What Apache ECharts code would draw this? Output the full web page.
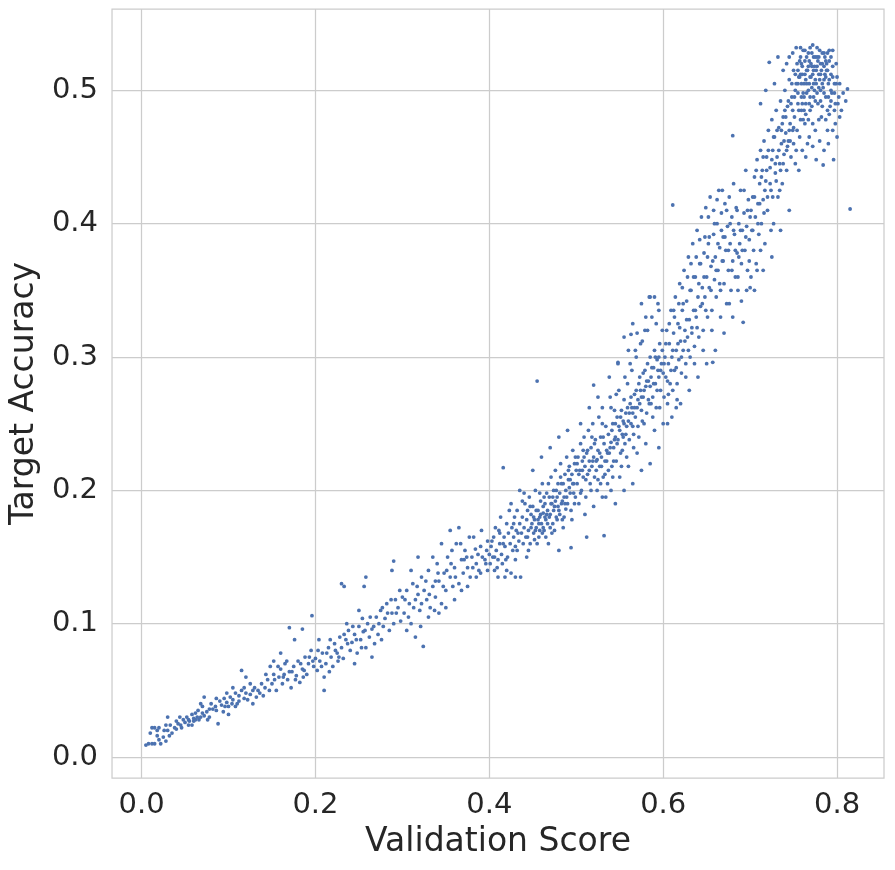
<!DOCTYPE html>
<html>
<head>
<meta charset="utf-8">
<script src="https://cdn.jsdelivr.net/npm/echarts@6/dist/echarts.min.js"></script>
<style>
  html, body { margin: 0; padding: 0; background: #fff; }
  #chart { width: 895px; height: 870px; }
</style>
</head>
<body>
<div id="chart"></div>
<script>
// tick labels
const xTicks = [0.0, 0.2, 0.4, 0.6, 0.8]
const yTicks = [0.0, 0.1, 0.2, 0.3, 0.4, 0.5]

// [validation score, target accuracy], left to right
const lowBand = [
  [0.008,0.010],[0.012,0.010],[0.015,0.010],[0.010,0.018],[0.012,0.022],[0.015,0.022],[0.018,0.020],[0.020,0.013],
  [0.022,0.010],[0.025,0.015],[0.028,0.012],[0.030,0.020],[0.018,0.016],[0.028,0.024],[0.030,0.030],[0.035,0.018],
  [0.033,0.024],[0.038,0.022],[0.040,0.027],[0.042,0.025],[0.045,0.024],[0.048,0.028],[0.050,0.026],[0.052,0.030],
  [0.055,0.027],[0.058,0.032],[0.060,0.029],[0.062,0.033],[0.065,0.035],[0.068,0.030],[0.070,0.038],[0.072,0.031],
  [0.075,0.034],[0.078,0.030],[0.080,0.040],[0.082,0.036],[0.085,0.038],[0.088,0.025],[0.090,0.042],[0.092,0.039],
  [0.095,0.044],[0.098,0.041],[0.100,0.038],[0.102,0.045],[0.105,0.043],[0.108,0.048],[0.110,0.040],[0.112,0.046],
  [0.115,0.050],[0.118,0.044],[0.120,0.048],[0.122,0.043],[0.125,0.047],[0.128,0.040],[0.130,0.052],[0.132,0.045],
  [0.134,0.050],[0.136,0.048],[0.138,0.055],[0.140,0.046],[0.060,0.027],[0.064,0.030],[0.058,0.024],[0.046,0.022],
  [0.072,0.045],[0.068,0.040],[0.098,0.048],[0.100,0.032],[0.120,0.060],[0.115,0.065],[0.105,0.052],[0.005,0.009],
  [0.040,0.021],[0.044,0.030],[0.054,0.024],[0.066,0.028],[0.076,0.028],[0.086,0.044],[0.094,0.034],[0.108,0.038],
  [0.125,0.055],[0.128,0.050],[0.118,0.052],[0.112,0.042],[0.104,0.040],[0.096,0.038],[0.086,0.035],[0.078,0.036],
  [0.070,0.033],[0.062,0.028],[0.054,0.028],[0.026,0.020],[0.020,0.022],[0.032,0.016]
]

const lowMidBand = [
  [0.142,0.052],[0.145,0.058],[0.148,0.068],[0.150,0.055],[0.152,0.062],[0.155,0.050],[0.158,0.060],[0.160,0.066],
  [0.162,0.055],[0.165,0.070],[0.168,0.058],[0.170,0.064],[0.172,0.052],[0.175,0.068],[0.178,0.061],[0.180,0.072],
  [0.182,0.056],[0.185,0.066],[0.188,0.075],[0.190,0.062],[0.192,0.070],[0.195,0.080],[0.198,0.068],[0.200,0.074],
  [0.202,0.065],[0.205,0.072],[0.208,0.078],[0.210,0.050],[0.212,0.070],[0.215,0.082],[0.218,0.075],[0.220,0.068],
  [0.222,0.085],[0.225,0.078],[0.228,0.090],[0.230,0.082],[0.232,0.074],[0.235,0.088],[0.238,0.095],[0.240,0.080],
  [0.242,0.086],[0.245,0.092],[0.248,0.078],[0.250,0.098],[0.252,0.088],[0.255,0.094],[0.258,0.082],[0.260,0.100],
  [0.262,0.090],[0.265,0.096],[0.268,0.085],[0.270,0.105],[0.272,0.092],[0.275,0.110],[0.278,0.098],[0.280,0.104],
  [0.282,0.115],[0.285,0.095],[0.288,0.108],[0.290,0.100],[0.292,0.118],[0.295,0.112],[0.298,0.102],[0.300,0.120],
  [0.185,0.096],[0.170,0.097],[0.196,0.106],[0.230,0.130],[0.233,0.128],[0.250,0.110],[0.265,0.075],[0.210,0.060],
  [0.160,0.078],[0.176,0.088],[0.245,0.070],[0.258,0.135],[0.256,0.128],[0.290,0.147],[0.288,0.140],[0.152,0.072],
  [0.164,0.062],[0.186,0.060],[0.204,0.088],[0.216,0.064],[0.226,0.072],[0.236,0.100],[0.254,0.104],[0.276,0.088],
  [0.143,0.062],[0.147,0.050],[0.153,0.058],[0.157,0.068],[0.163,0.060],[0.167,0.072],[0.173,0.064],[0.177,0.058],
  [0.183,0.070],[0.187,0.065],[0.193,0.075],[0.197,0.072],[0.203,0.080],[0.207,0.068],[0.213,0.078],[0.217,0.088],
  [0.223,0.080],[0.227,0.075],[0.233,0.092],[0.237,0.085],[0.243,0.098],[0.247,0.088],[0.253,0.082],[0.257,0.095],
  [0.263,0.105],[0.267,0.098],[0.273,0.100],[0.277,0.112],[0.283,0.108],[0.287,0.118],[0.293,0.108],[0.297,0.125]
]

const midBand = [
  [0.302,0.108],[0.305,0.125],[0.308,0.115],[0.310,0.100],[0.312,0.130],[0.315,0.118],[0.318,0.122],[0.320,0.110],
  [0.322,0.135],[0.324,0.083],[0.325,0.125],[0.328,0.118],[0.330,0.140],[0.332,0.112],[0.335,0.128],[0.338,0.120],
  [0.340,0.145],[0.342,0.132],[0.345,0.115],[0.348,0.138],[0.350,0.125],[0.352,0.150],[0.355,0.135],[0.358,0.128],
  [0.360,0.142],[0.362,0.160],[0.365,0.130],[0.368,0.148],[0.370,0.138],[0.372,0.155],[0.375,0.142],[0.378,0.135],
  [0.380,0.150],[0.382,0.165],[0.385,0.145],[0.388,0.140],[0.390,0.158],[0.392,0.150],[0.395,0.148],[0.398,0.162],
  [0.400,0.152],[0.310,0.140],[0.318,0.150],[0.335,0.150],[0.345,0.160],[0.355,0.170],[0.365,0.172],[0.330,0.105],
  [0.342,0.108],[0.360,0.118],[0.375,0.128],[0.390,0.138],[0.305,0.095],[0.315,0.090],[0.350,0.112],[0.368,0.125],
  [0.385,0.135],[0.396,0.145],[0.398,0.140],[0.322,0.115],[0.338,0.132],[0.356,0.145],[0.374,0.150],[0.384,0.156],
  [0.303,0.118],[0.307,0.105],[0.313,0.112],[0.317,0.128],[0.321,0.098],[0.327,0.132],[0.331,0.122],[0.337,0.110],
  [0.341,0.138],[0.347,0.128],[0.351,0.140],[0.357,0.155],[0.361,0.135],[0.367,0.160],[0.371,0.148],[0.377,0.165],
  [0.381,0.142],[0.387,0.152],[0.391,0.170],[0.397,0.155]
]

const riseBand = [
  [0.401,0.145],[0.402,0.158],[0.404,0.150],[0.405,0.165],[0.406,0.140],[0.408,0.155],[0.410,0.148],[0.411,0.170],
  [0.412,0.160],[0.414,0.152],[0.415,0.145],[0.416,0.217],[0.417,0.165],[0.418,0.158],[0.420,0.175],[0.421,0.150],
  [0.422,0.168],[0.424,0.160],[0.425,0.138],[0.426,0.172],[0.428,0.165],[0.429,0.180],[0.430,0.158],[0.431,0.170],
  [0.432,0.185],[0.434,0.162],[0.435,0.175],[0.436,0.135],[0.437,0.168],[0.438,0.180],[0.440,0.172],[0.441,0.190],
  [0.442,0.165],[0.443,0.178],[0.444,0.185],[0.445,0.170],[0.446,0.195],[0.447,0.160],[0.448,0.182],[0.449,0.175],
  [0.450,0.188],[0.451,0.168],[0.452,0.178],[0.453,0.200],[0.454,0.172],[0.455,0.282],[0.456,0.185],[0.457,0.165],
  [0.458,0.180],[0.459,0.192],[0.460,0.175],[0.461,0.205],[0.462,0.183],[0.463,0.170],[0.464,0.190],[0.465,0.178],
  [0.466,0.198],[0.467,0.185],[0.468,0.160],[0.469,0.195],[0.470,0.182],[0.471,0.210],[0.472,0.190],[0.473,0.175],
  [0.474,0.200],[0.475,0.188],[0.476,0.215],[0.477,0.180],[0.478,0.195],[0.479,0.205],[0.480,0.185],[0.481,0.198],
  [0.482,0.220],[0.483,0.190],[0.484,0.178],[0.485,0.205],[0.486,0.195],[0.487,0.212],[0.488,0.200],[0.489,0.225],
  [0.490,0.190],[0.491,0.208],[0.492,0.218],[0.493,0.198],[0.494,0.185],[0.495,0.212],[0.496,0.230],[0.497,0.205],
  [0.498,0.220],[0.499,0.195],[0.500,0.215],[0.420,0.140],[0.430,0.148],[0.445,0.155],[0.455,0.160],[0.465,0.165],
  [0.475,0.170],[0.485,0.172],[0.495,0.178],[0.425,0.190],[0.435,0.200],[0.450,0.215],[0.460,0.225],[0.470,0.232],
  [0.480,0.240],[0.490,0.245],[0.440,0.198],[0.410,0.135],[0.432,0.155],[0.452,0.163],[0.462,0.172],[0.472,0.168],
  [0.478,0.178],[0.488,0.186],[0.498,0.190],[0.458,0.198],[0.468,0.205],[0.482,0.210],[0.418,0.135],[0.430,0.135],
  [0.480,0.155],[0.494,0.157],[0.456,0.178],[0.462,0.188],[0.466,0.182],[0.474,0.185],[0.484,0.192],[0.492,0.202],
  [0.403,0.162],[0.407,0.172],[0.409,0.142],[0.413,0.180],[0.419,0.148],[0.423,0.185],[0.427,0.155],[0.433,0.168],
  [0.439,0.160],[0.443,0.150],[0.447,0.188],[0.451,0.180],[0.453,0.170],[0.457,0.175],[0.459,0.182],[0.461,0.168],
  [0.463,0.195],[0.467,0.175],[0.469,0.180],[0.471,0.190],[0.473,0.195],[0.477,0.200],[0.479,0.188],[0.481,0.182],
  [0.483,0.205],[0.487,0.190],[0.489,0.195],[0.491,0.215],[0.493,0.208],[0.497,0.198],[0.499,0.225],[0.444,0.165],
  [0.448,0.172],[0.454,0.185],[0.458,0.170],[0.464,0.180],[0.470,0.172],[0.476,0.192],[0.486,0.180],[0.496,0.205],
  [0.438,0.192],[0.428,0.175],[0.416,0.160],[0.406,0.150],[0.412,0.168]
]

const steepBand = [
  [0.501,0.205],[0.502,0.225],[0.503,0.190],[0.504,0.215],[0.505,0.235],[0.506,0.200],[0.507,0.222],[0.508,0.210],
  [0.509,0.240],[0.510,0.218],[0.511,0.195],[0.512,0.228],[0.513,0.212],[0.514,0.245],[0.515,0.222],[0.516,0.205],
  [0.517,0.232],[0.518,0.218],[0.519,0.250],[0.520,0.225],[0.521,0.210],[0.522,0.238],[0.523,0.222],[0.524,0.200],
  [0.525,0.230],[0.526,0.255],[0.527,0.218],[0.528,0.240],[0.529,0.225],[0.530,0.262],[0.531,0.210],[0.532,0.235],
  [0.533,0.222],[0.534,0.248],[0.535,0.230],[0.536,0.205],[0.537,0.242],[0.538,0.228],[0.539,0.270],[0.540,0.236],
  [0.541,0.218],[0.542,0.250],[0.543,0.232],[0.544,0.260],[0.545,0.240],[0.546,0.222],[0.547,0.255],[0.548,0.238],
  [0.549,0.275],[0.550,0.245],[0.551,0.228],[0.552,0.260],[0.553,0.242],[0.554,0.252],[0.555,0.268],[0.556,0.235],
  [0.557,0.258],[0.558,0.248],[0.559,0.280],[0.560,0.252],[0.561,0.238],[0.562,0.265],[0.563,0.250],[0.564,0.290],
  [0.565,0.258],[0.566,0.242],[0.567,0.272],[0.568,0.255],[0.569,0.300],[0.570,0.262],[0.571,0.248],[0.572,0.280],
  [0.573,0.265],[0.574,0.310],[0.575,0.270],[0.576,0.252],[0.577,0.288],[0.578,0.275],[0.579,0.320],[0.580,0.278],
  [0.581,0.258],[0.582,0.295],[0.583,0.282],[0.584,0.265],[0.585,0.300],[0.586,0.285],[0.587,0.330],[0.588,0.270],
  [0.589,0.292],[0.590,0.305],[0.591,0.280],[0.592,0.262],[0.593,0.298],[0.594,0.340],[0.595,0.285],[0.596,0.310],
  [0.597,0.275],[0.598,0.295],[0.599,0.320],[0.600,0.288],[0.510,0.182],[0.520,0.188],[0.530,0.195],[0.540,0.200],
  [0.550,0.210],[0.560,0.218],[0.570,0.228],[0.580,0.235],[0.590,0.245],[0.600,0.250],[0.545,0.190],[0.565,0.205],
  [0.585,0.220],[0.555,0.200],[0.575,0.215],[0.595,0.232],[0.505,0.250],[0.515,0.262],[0.525,0.270],[0.538,0.285],
  [0.548,0.295],[0.560,0.305],[0.570,0.318],[0.580,0.330],[0.590,0.345],[0.595,0.335],[0.585,0.345],[0.575,0.340],
  [0.565,0.325],[0.555,0.315],[0.532,0.166],[0.512,0.165],[0.563,0.317],[0.548,0.296],[0.520,0.279],[0.508,0.230],
  [0.501,0.220],[0.503,0.212],[0.505,0.198],[0.507,0.215],[0.509,0.225],[0.511,0.208],[0.513,0.230],[0.515,0.215],
  [0.517,0.200],[0.519,0.222],[0.521,0.235],[0.523,0.215],[0.525,0.208],[0.527,0.228],[0.529,0.218],[0.531,0.240],
  [0.533,0.212],[0.535,0.222],[0.537,0.215],[0.539,0.232],[0.541,0.245],[0.543,0.222],[0.545,0.250],[0.547,0.235],
  [0.549,0.248],[0.551,0.255],[0.553,0.230],[0.555,0.250],[0.557,0.242],[0.559,0.262],[0.561,0.258],[0.563,0.270],
  [0.565,0.248],[0.567,0.262],[0.569,0.275],[0.571,0.268],[0.573,0.285],[0.575,0.260],[0.577,0.270],[0.579,0.290],
  [0.581,0.282],[0.583,0.268],[0.585,0.278],[0.587,0.292],[0.589,0.280],[0.591,0.300],[0.593,0.275],[0.595,0.300],
  [0.597,0.290],[0.599,0.305],[0.528,0.205],[0.534,0.195],[0.542,0.210],[0.552,0.218],[0.558,0.225],[0.566,0.232],
  [0.572,0.240],[0.578,0.250],[0.588,0.255],[0.596,0.262],[0.518,0.240],[0.530,0.250],[0.540,0.262],[0.546,0.272],
  [0.556,0.285],[0.562,0.295],[0.568,0.305],[0.576,0.312],[0.582,0.320],[0.592,0.325],[0.524,0.223],[0.536,0.228],
  [0.544,0.238],[0.554,0.240],[0.564,0.262],[0.574,0.275],[0.586,0.265],[0.594,0.290]
]

const upperBand = [
  [0.601,0.270],[0.602,0.300],[0.603,0.285],[0.604,0.320],[0.605,0.265],[0.606,0.295],[0.607,0.310],[0.608,0.280],
  [0.609,0.335],[0.610,0.300],[0.611,0.275],[0.612,0.318],[0.613,0.290],[0.614,0.345],[0.615,0.305],[0.616,0.280],
  [0.617,0.325],[0.618,0.298],[0.619,0.355],[0.620,0.312],[0.621,0.288],[0.622,0.335],[0.623,0.305],[0.624,0.365],
  [0.625,0.320],[0.626,0.295],[0.627,0.342],[0.628,0.315],[0.629,0.375],[0.630,0.328],[0.631,0.300],[0.632,0.350],
  [0.633,0.322],[0.634,0.385],[0.635,0.335],[0.636,0.308],[0.637,0.360],[0.638,0.330],[0.639,0.395],[0.640,0.345],
  [0.641,0.315],[0.642,0.370],[0.643,0.338],[0.644,0.405],[0.645,0.352],[0.646,0.320],[0.647,0.378],[0.648,0.345],
  [0.649,0.412],[0.650,0.360],[0.651,0.330],[0.652,0.385],[0.653,0.352],[0.654,0.420],[0.655,0.368],[0.656,0.335],
  [0.657,0.296],[0.658,0.392],[0.659,0.358],[0.660,0.375],[0.661,0.345],[0.662,0.400],[0.663,0.365],[0.664,0.425],
  [0.665,0.382],[0.666,0.350],[0.667,0.408],[0.668,0.372],[0.669,0.390],[0.670,0.355],[0.671,0.415],[0.672,0.380],
  [0.673,0.340],[0.674,0.398],[0.675,0.365],[0.676,0.420],[0.677,0.385],[0.678,0.350],[0.679,0.405],[0.680,0.372],
  [0.681,0.430],[0.682,0.392],[0.683,0.360],[0.684,0.412],[0.685,0.378],[0.686,0.350],[0.687,0.400],[0.688,0.385],
  [0.689,0.425],[0.690,0.370],[0.691,0.395],[0.692,0.326],[0.693,0.408],[0.694,0.380],[0.695,0.440],[0.696,0.398],
  [0.697,0.365],[0.698,0.418],[0.699,0.388],[0.700,0.405],[0.610,0.255],[0.620,0.265],[0.630,0.275],[0.640,0.285],
  [0.650,0.295],[0.660,0.305],[0.670,0.318],[0.680,0.330],[0.690,0.342],[0.700,0.352],[0.605,0.250],[0.615,0.262],
  [0.611,0.414],[0.584,0.345],[0.601,0.295],[0.603,0.310],[0.605,0.282],[0.607,0.325],[0.609,0.290],[0.611,0.305],
  [0.613,0.330],[0.615,0.292],[0.617,0.310],[0.619,0.322],[0.621,0.300],[0.623,0.340],[0.625,0.312],[0.627,0.328],
  [0.629,0.305],[0.631,0.350],[0.633,0.318],[0.635,0.360],[0.637,0.335],[0.639,0.322],[0.641,0.355],[0.643,0.370],
  [0.645,0.340],[0.647,0.360],[0.649,0.335],[0.651,0.375],[0.653,0.390],[0.655,0.350],[0.657,0.372],[0.659,0.400],
  [0.661,0.365],[0.663,0.385],[0.665,0.355],[0.667,0.395],[0.669,0.372],[0.671,0.390],[0.673,0.410],[0.675,0.380],
  [0.677,0.400],[0.679,0.365],[0.681,0.395],[0.683,0.380],[0.685,0.410],[0.687,0.375],[0.689,0.395],[0.691,0.380],
  [0.693,0.425],[0.695,0.390],[0.697,0.410],[0.699,0.372],[0.606,0.272],[0.616,0.268],[0.626,0.285],[0.636,0.295],
  [0.646,0.305],[0.656,0.320],[0.666,0.330],[0.676,0.340],[0.686,0.360],[0.696,0.350],[0.618,0.340],[0.628,0.360],
  [0.638,0.375],[0.648,0.390],[0.658,0.410],[0.668,0.425],[0.662,0.418],[0.652,0.405],[0.642,0.388],[0.632,0.370],
  [0.622,0.352],[0.612,0.335]
]

const topCluster = [
  [0.701,0.360],[0.702,0.395],[0.703,0.420],[0.704,0.380],[0.705,0.435],[0.706,0.405],[0.707,0.370],[0.708,0.448],
  [0.709,0.415],[0.710,0.392],[0.711,0.430],[0.712,0.455],[0.713,0.400],[0.714,0.440],[0.715,0.418],[0.716,0.462],
  [0.717,0.385],[0.718,0.432],[0.719,0.450],[0.720,0.410],[0.721,0.470],[0.722,0.521],[0.723,0.442],[0.724,0.425],
  [0.725,0.478],[0.726,0.455],[0.727,0.400],[0.728,0.465],[0.729,0.438],[0.730,0.485],[0.731,0.450],[0.732,0.420],
  [0.733,0.472],[0.734,0.445],[0.735,0.492],[0.736,0.460],[0.737,0.430],[0.738,0.480],[0.739,0.452],[0.740,0.500],
  [0.741,0.468],[0.742,0.440],[0.743,0.488],[0.744,0.462],[0.745,0.508],[0.746,0.475],[0.747,0.450],[0.748,0.495],
  [0.749,0.470],[0.750,0.515],[0.680,0.466],[0.705,0.350],[0.715,0.365],[0.725,0.375],[0.735,0.395],[0.745,0.410],
  [0.712,0.490],[0.718,0.500],[0.728,0.505],[0.738,0.515],[0.732,0.525],[0.742,0.520],[0.751,0.480],[0.752,0.500],
  [0.753,0.455],[0.754,0.520],[0.755,0.490],[0.756,0.510],[0.757,0.465],[0.758,0.525],[0.759,0.495],[0.760,0.512],
  [0.761,0.478],[0.762,0.505],[0.763,0.530],[0.764,0.490],[0.765,0.515],[0.766,0.460],[0.767,0.500],[0.768,0.522],
  [0.769,0.485],[0.770,0.510],[0.771,0.528],[0.772,0.534],[0.773,0.495],[0.774,0.518],[0.775,0.470],[0.776,0.505],
  [0.777,0.525],[0.778,0.490],[0.779,0.512],[0.780,0.530],[0.781,0.500],[0.782,0.480],[0.783,0.520],[0.784,0.444],
  [0.785,0.508],[0.786,0.525],[0.787,0.495],[0.788,0.515],[0.789,0.470],[0.790,0.505],[0.791,0.522],[0.792,0.488],
  [0.793,0.512],[0.794,0.498],[0.795,0.518],[0.796,0.448],[0.797,0.505],[0.798,0.490],[0.800,0.510],[0.802,0.495],
  [0.805,0.485],[0.810,0.492],[0.812,0.501],[0.815,0.411],[0.755,0.505],[0.758,0.512],[0.760,0.518],[0.762,0.495],
  [0.764,0.508],[0.766,0.515],[0.768,0.505],[0.770,0.520],[0.772,0.512],[0.774,0.500],[0.776,0.515],[0.778,0.522],
  [0.780,0.508],[0.782,0.515],[0.784,0.502],[0.786,0.512],[0.788,0.520],[0.790,0.495],[0.757,0.522],[0.761,0.530],
  [0.765,0.525],[0.769,0.532],[0.773,0.525],[0.777,0.532],[0.781,0.520],[0.785,0.528],[0.789,0.528],[0.793,0.525],
  [0.759,0.485],[0.763,0.475],[0.767,0.478],[0.771,0.488],[0.775,0.492],[0.779,0.478],[0.783,0.488],[0.787,0.478],
  [0.791,0.482],[0.795,0.470],[0.750,0.460],[0.752,0.445],[0.756,0.440],[0.760,0.455],[0.764,0.450],[0.768,0.465],
  [0.772,0.458],[0.776,0.448],[0.780,0.462],[0.785,0.455],[0.790,0.460],[0.798,0.475],[0.701,0.410],[0.703,0.395],
  [0.705,0.420],[0.707,0.440],[0.709,0.400],[0.711,0.415],[0.713,0.435],[0.715,0.450],[0.717,0.425],[0.719,0.440],
  [0.721,0.455],[0.723,0.430],[0.725,0.448],[0.727,0.465],[0.729,0.445],[0.731,0.470],[0.733,0.455],[0.735,0.440],
  [0.737,0.475],[0.739,0.462],[0.741,0.480],[0.743,0.458],[0.745,0.470],[0.747,0.490],[0.749,0.485],[0.751,0.495],
  [0.753,0.505],[0.755,0.498],[0.757,0.510],[0.759,0.505],[0.761,0.498],[0.763,0.512],[0.765,0.505],[0.767,0.518],
  [0.769,0.510],[0.771,0.502],[0.773,0.515],[0.775,0.508],[0.777,0.518],[0.779,0.502],[0.781,0.512],[0.783,0.505],
  [0.785,0.518],[0.787,0.510],[0.789,0.515],[0.791,0.508],[0.793,0.500],[0.795,0.510],[0.797,0.498],[0.799,0.505],
  [0.755,0.515],[0.759,0.520],[0.763,0.522],[0.767,0.528],[0.771,0.518],[0.775,0.525],[0.779,0.525],[0.783,0.528],
  [0.787,0.522],[0.791,0.530],[0.765,0.498],[0.769,0.495],[0.773,0.505],[0.777,0.498],[0.781,0.492],[0.785,0.498],
  [0.789,0.485],[0.793,0.492],[0.797,0.485],[0.801,0.490],[0.726,0.420],[0.730,0.432],[0.734,0.425],[0.738,0.445],
  [0.742,0.455],[0.746,0.462],[0.750,0.472],[0.754,0.470],[0.758,0.478],[0.762,0.485],[0.736,0.470],[0.740,0.485],
  [0.744,0.492],[0.748,0.505],[0.752,0.512],[0.756,0.485],[0.760,0.490],[0.764,0.482],[0.768,0.490],[0.772,0.475],
  [0.716,0.408],[0.720,0.420],[0.724,0.395],[0.712,0.380],[0.708,0.365],[0.745,0.525],[0.749,0.528],[0.753,0.532],
  [0.758,0.532],[0.795,0.530],[0.799,0.520],[0.803,0.505],[0.807,0.498],[0.800,0.465],[0.803,0.480]
]

const textColor = '#262626'
const font = 'DejaVu Sans'

const chart = echarts.init(document.getElementById('chart'), null, { renderer: 'canvas' })

const allPoints = [].concat(lowBand, lowMidBand, midBand, riseBand, steepBand, upperBand, topCluster)

chart.setOption({
  animation: false,
  backgroundColor: '#ffffff',
  grid: {
    left: 110, right: 11, top: 9, bottom: 92,
    show: true, borderColor: '#cccccc', borderWidth: 1.25
  },
  xAxis: {
    type: 'value',
    min: -0.034, max: 0.854,
    name: 'Validation Score',
    nameLocation: 'middle',
    nameGap: 48,
    nameTextStyle: { fontFamily: font, fontSize: 33, color: textColor },
    axisLine: { show: false },
    axisTick: { show: false, customValues: xTicks },
    axisLabel: {
      customValues: xTicks,
      fontFamily: font, fontSize: 29, color: textColor, margin: 13,
      formatter: v => v.toFixed(1)
    },
    splitLine: { show: true, lineStyle: { color: '#cccccc', width: 1.25 } }
  },
  yAxis: {
    type: 'value',
    min: -0.0157, max: 0.561,
    name: 'Target Accuracy',
    nameLocation: 'middle',
    nameGap: 66,
    nameTextStyle: { fontFamily: font, fontSize: 33, color: textColor },
    axisLine: { show: false },
    axisTick: { show: false, customValues: yTicks },
    axisLabel: {
      customValues: yTicks,
      fontFamily: font, fontSize: 29, color: textColor, margin: 14,
      formatter: v => v.toFixed(1)
    },
    splitLine: { show: true, lineStyle: { color: '#cccccc', width: 1.25 } }
  },
  series: [{
    type: 'scatter',
    data: allPoints,
    symbol: 'circle',
    symbolSize: 3.8,
    itemStyle: { color: '#4c72b0', opacity: 1 }
  }]
})
</script>
</body>
</html>
